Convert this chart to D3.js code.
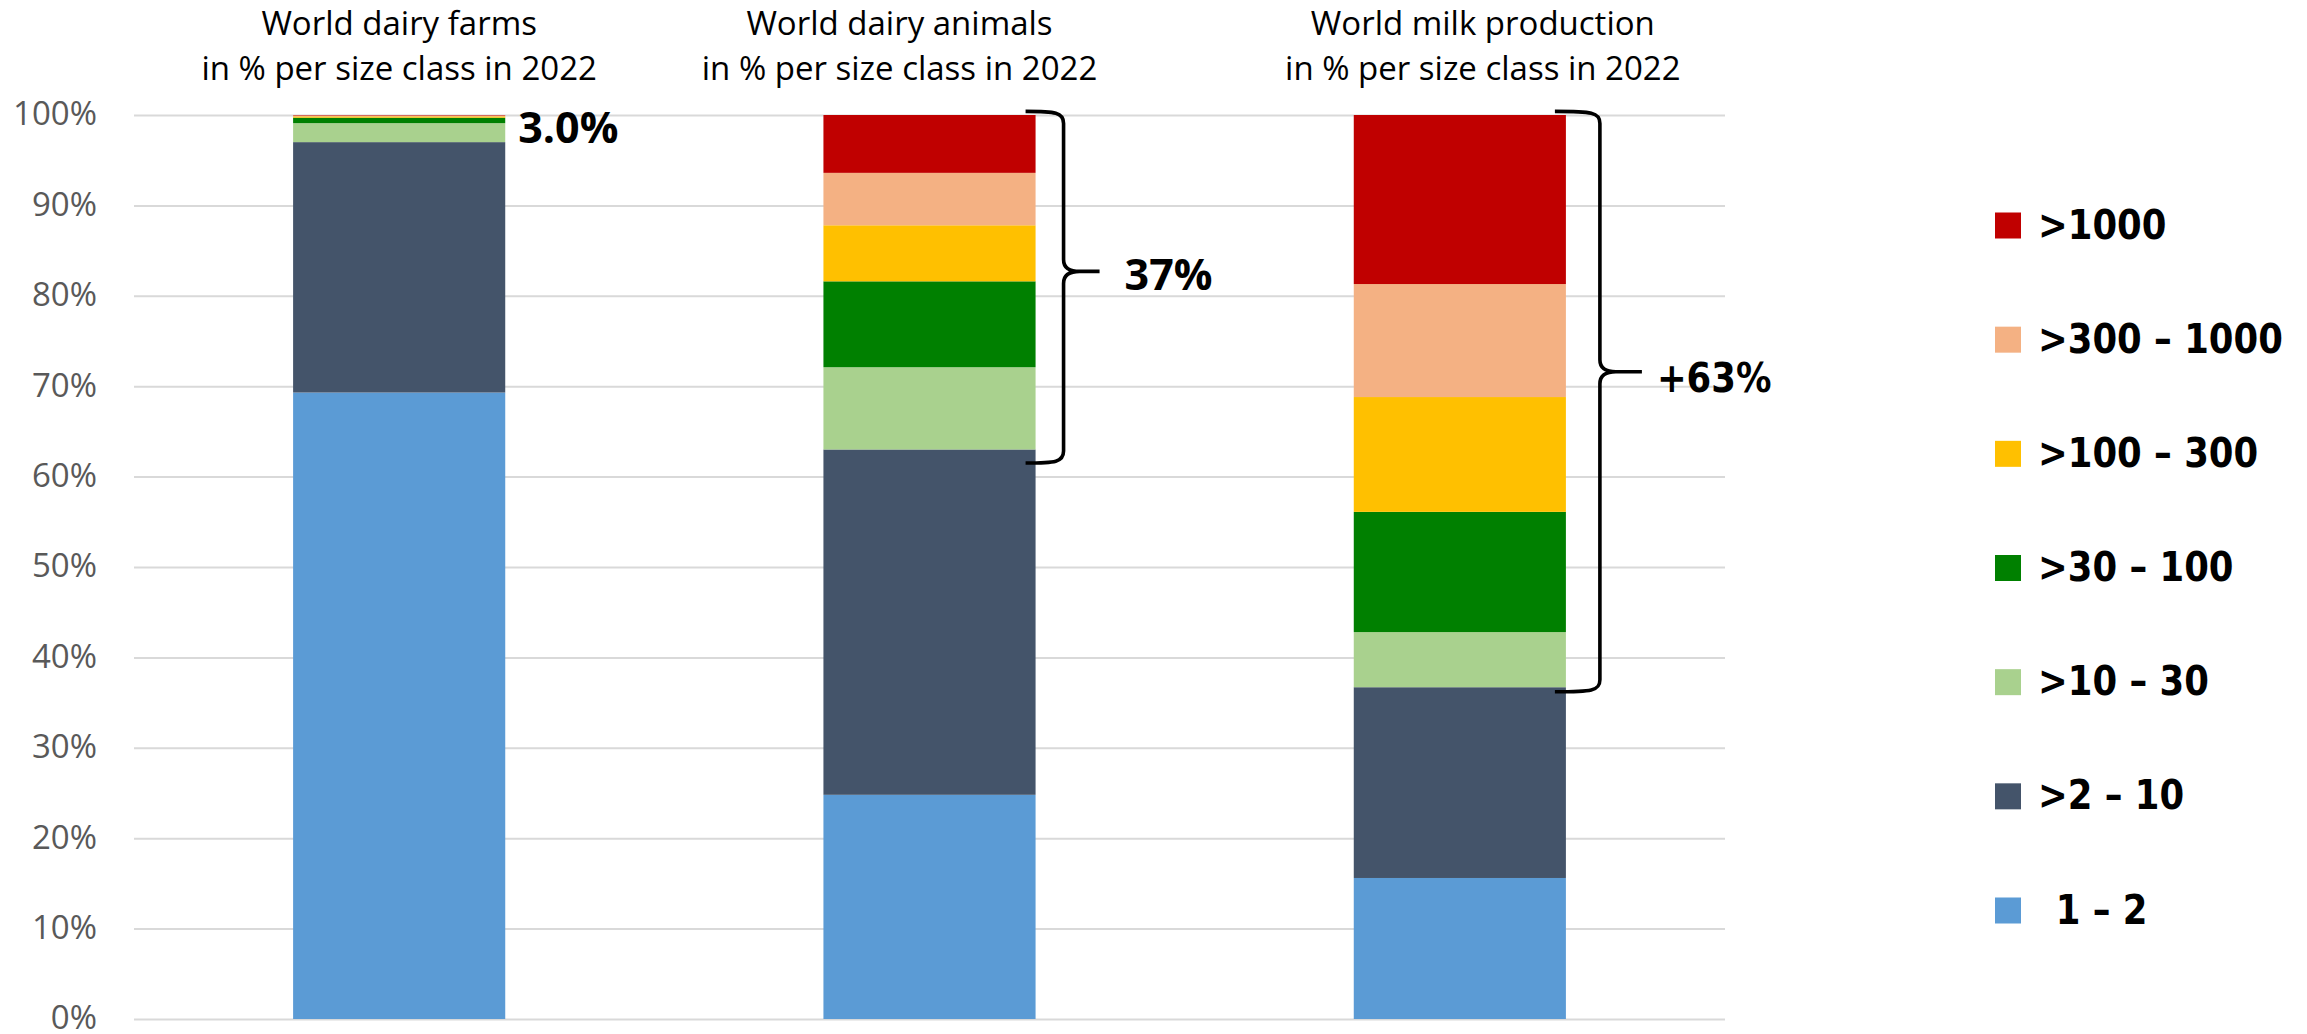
<!DOCTYPE html>
<html>
<head>
<meta charset="utf-8">
<script src="https://cdn.jsdelivr.net/npm/d3@7"></script>
<style>
  html, body { margin: 0; padding: 0; background: #ffffff; }
  svg { display: block; }
</style>
</head>
<body>
<svg id="chart"></svg>
<script>
// ---- data ----------------------------------------------------------------
const categories = ["farms", "animals", "milk"];
const titleLine1 = ["World dairy farms", "World dairy animals", "World milk production"];
const titleLine2 = ["in % per size class in 2022", "in % per size class in 2022", "in % per size class in 2022"];

// herd size classes (number of dairy animals), bottom of the stack first
const sizeClasses = ["1 – 2", ">2 – 10", ">10 – 30", ">30 – 100", ">100 – 300", ">300 – 1000", ">1000"];
const classColors = ["#5B9BD5", "#44546A", "#A9D18E", "#008000", "#FFC000", "#F4B183", "#C00000"];

// share (%) per size class, same order as sizeClasses
const farmsShare   = [69.3, 27.7, 2.1, 0.6, 0.15, 0.1, 0.05];
const animalsShare = [24.8, 38.2, 9.1, 9.5, 6.2, 5.8, 6.4];
const milkShare    = [15.6, 21.1, 6.1, 13.3, 12.7, 12.5, 18.7];

const yTicks = [0, 10, 20, 30, 40, 50, 60, 70, 80, 90, 100];

// bracket annotations on the larger herds (>10 animals): [bottom, tip, top] in %
const braceCategory = ["animals", "milk"];
const braceBottom = [61.5, 36.2];
const braceTip    = [82.7, 71.6];
const braceTop    = [100.4, 100.4];

// ---- layout ----------------------------------------------------------------
const W = 2307, H = 1034;
const plot = { left: 134, right: 1725, top: 115, bottom: 1019 };
const titleShift = [0, -30, 23];
const braceGeom = [{ hook: -10, vert: 28, tip: 64, label: 89 }, { hook: -11, vert: 34, tip: 76, label: 91 }];

const svg = d3.select("#chart").attr("width", W).attr("height", H);

const x = d3.scaleBand().domain(categories)
  .range([plot.left, plot.right]).paddingInner(0.6).paddingOuter(0.3);
const y = d3.scaleLinear().domain([0, 100]).range([plot.bottom, plot.top]);

// rows for the stack
const shares = { farms: farmsShare, animals: animalsShare, milk: milkShare };
const rows = categories.map(c => {
  const r = { category: c };
  sizeClasses.forEach((k, i) => { r[k] = shares[c][i]; });
  return r;
});
const series = d3.stack().keys(sizeClasses)(rows);
const color = d3.scaleOrdinal().domain(sizeClasses).range(classColors);

// gridlines + percentage tick labels
const yAxis = d3.axisLeft(y).tickValues(yTicks).tickFormat(d => d + "%")
  .tickSizeInner(-(plot.right - plot.left)).tickSizeOuter(0).tickPadding(37);
const gy = svg.append("g").attr("transform", `translate(${plot.left},0)`).call(yAxis);
gy.select(".domain").remove();
gy.selectAll(".tick line").attr("stroke", "#d9d9d9").attr("stroke-width", 2);
gy.selectAll(".tick text")
  .attr("fill", "#595959")
  .attr("dy", "0.3em")
  .style("font-family", "'Open Sans', 'Noto Sans', sans-serif")
  .style("font-size", "33px");

// stacked bars
svg.append("g").selectAll("g").data(series).join("g")
  .attr("fill", d => color(d.key))
  .selectAll("rect").data(d => d).join("rect")
  .attr("x", d => x(d.data.category))
  .attr("width", x.bandwidth())
  .attr("y", d => y(d[1]))
  .attr("height", d => y(d[0]) - y(d[1]));

// column titles
const titles = svg.append("g")
  .style("font-family", "'Open Sans', 'Noto Sans', sans-serif")
  .style("font-size", "33px")
  .attr("fill", "#000");
categories.forEach((c, i) => {
  const cx = x(c) + x.bandwidth() / 2 + titleShift[i];
  titles.append("text").attr("x", cx).attr("y", 35).attr("text-anchor", "middle").text(titleLine1[i]);
  titles.append("text").attr("x", cx).attr("y", 80).attr("text-anchor", "middle").text(titleLine2[i]);
});

// share of herds above 10 animals
const largeShare = c => d3.sum(shares[c].slice(2));

// label on the farms column
const farmsLarge = largeShare("farms");
svg.append("text")
  .attr("x", x("farms") + x.bandwidth() + 13)
  .attr("y", y(100 - farmsLarge) + 1)
  .style("font-family", "'Open Sans', sans-serif")
  .style("font-weight", 700)
  .style("font-size", "43px")
  .attr("fill", "#000")
  .text(d3.format(".1f")(farmsLarge) + "%");

// curly brackets
function bracePath(x0, xv, xt, yTop, yTip, yBot) {
  const r = 12;
  return `M${x0},${yTop} C${xv - 8},${yTop} ${xv},${yTop + 1} ${xv},${yTop + r}` +
    ` L${xv},${yTip - r} C${xv},${yTip - 3} ${xv + 6},${yTip} ${xv + 16},${yTip} L${xt},${yTip}` +
    ` M${xv + 16},${yTip} C${xv + 6},${yTip} ${xv},${yTip + 3} ${xv},${yTip + r}` +
    ` L${xv},${yBot - r} C${xv},${yBot - 1} ${xv - 8},${yBot} ${x0},${yBot}`;
}

braceCategory.forEach((c, i) => {
  const right = x(c) + x.bandwidth();
  const g = braceGeom[i];
  svg.append("path")
    .attr("d", bracePath(right + g.hook, right + g.vert, right + g.tip,
      y(braceTop[i]), y(braceTip[i]), y(braceBottom[i])))
    .attr("fill", "none").attr("stroke", "#000").attr("stroke-width", 3.6);

  const pct = d3.format(".0f")(largeShare(c)) + "%";
  const lx = right + g.label, ly = y(braceTip[i]);
  if (c === "animals") {
    svg.append("text")
      .attr("x", lx).attr("y", ly + 19)
      .style("font-family", "'Open Sans', sans-serif")
      .style("font-weight", 700).style("font-size", "43px")
      .attr("fill", "#000").text(pct);
  } else {
    svg.append("text")
      .attr("transform", `translate(${lx},${ly + 20}) scale(0.865,1)`)
      .style("font-family", "'DejaVu Sans', sans-serif")
      .style("font-weight", 700).style("font-size", "41px")
      .attr("fill", "#000").text("+" + pct);
  }
});

// legend, largest herds on top
const legendOrder = sizeClasses.slice().reverse();
const legendText = { "1 – 2": "\u20021 – 2" };
const legend = svg.append("g");
const ly = d3.scalePoint().domain(legendOrder).range([225.5, 910.5]);
legendOrder.forEach(k => {
  const cy = ly(k);
  legend.append("rect").attr("x", 1995).attr("y", cy - 13).attr("width", 26).attr("height", 26)
    .attr("fill", color(k));
  legend.append("text")
    .attr("transform", `translate(2038,${cy + 13}) scale(0.865,1)`)
    .style("font-family", "'DejaVu Sans', sans-serif")
    .style("font-weight", 700).style("font-size", "41px")
    .attr("fill", "#000")
    .text(legendText[k] || k);
});
</script>
</body>
</html>
